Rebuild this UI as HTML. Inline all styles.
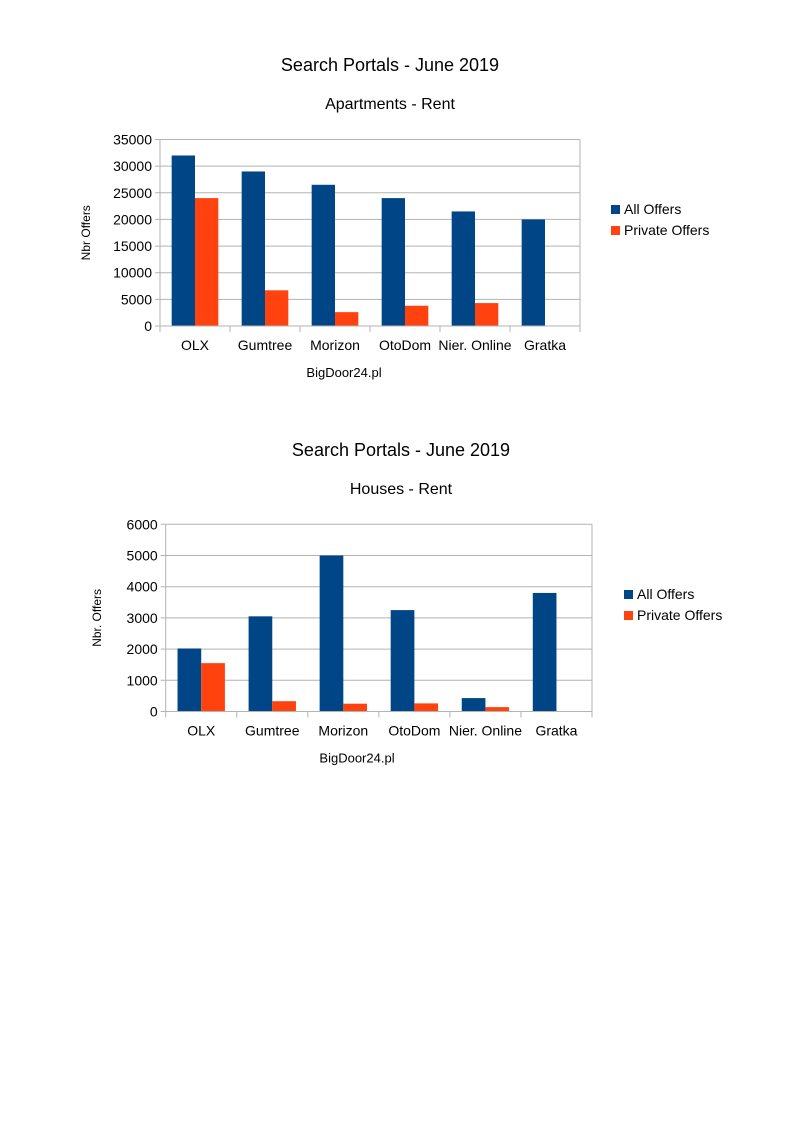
<!DOCTYPE html>
<html><head><meta charset="utf-8"><style>
body{margin:0;background:#fff;width:794px;height:1123px;overflow:hidden}
svg{font-family:"Liberation Sans",sans-serif}
</style></head><body>
<svg id="s" width="794" height="1123"></svg>
<script>
const categories=["OLX","Gumtree","Morizon","OtoDom","Nier. Online","Gratka"];
const aptAll=[32000,29000,26500,24000,21500,20000];
const aptPrivate=[24000,6700,2600,3800,4300,0];
const aptTicks=[0,5000,10000,15000,20000,25000,30000,35000];
const houseAll=[2020,3050,5000,3250,430,3800];
const housePrivate=[1550,330,250,260,140,0];
const houseTicks=[0,1000,2000,3000,4000,5000,6000];
const NS="http://www.w3.org/2000/svg";
const svg=document.getElementById('s');
function mk(tag,attrs,parent,text){const e=document.createElementNS(NS,tag);for(const k in attrs)e.setAttribute(k,attrs[k]);if(text!==undefined)e.textContent=text;(parent||svg).appendChild(e);return e;}
function chart(o){
  const g=mk('g',{});
  
  
  const t=mk('text',{x:o.cx,y:o.titleY,'text-anchor':'middle','font-size':18,fill:'#000'},g,'Search Portals - June 2019');
  
  const st=mk('text',{x:o.cx,y:o.titleY+38,'text-anchor':'middle','font-size':16,fill:'#000'},g,o.sub);
  
  const max=o.ticks[o.ticks.length-1];
  const y=v=>o.y0-(v/max)*(o.y0-o.y1);
  const cw=(o.x1-o.x0)/categories.length;
  const x=i=>o.x0+i*cw;
  o.ticks.forEach(v=>{
    const l=mk('line',{x1:o.x0-5,x2:o.x1,y1:y(v),y2:y(v),stroke:'#b3b3b3','stroke-width':1},g);
    
    const tl=mk('text',{x:o.x0-8,y:y(v)+5,'text-anchor':'end','font-size':14,fill:'#000'},g,String(v));
    
  });
  mk('line',{x1:o.x0,x2:o.x0,y1:o.y1,y2:o.y0,stroke:'#b3b3b3'},g);
  mk('line',{x1:o.x1,x2:o.x1,y1:o.y1,y2:o.y0,stroke:'#b3b3b3'},g);
  const bw=cw/3;
  categories.forEach((c,i)=>{
    const b1=mk('rect',{x:x(i)+cw/6,y:y(o.all[i]),width:bw,height:o.y0-y(o.all[i]),fill:'#004586'},g);
    
    const b2=mk('rect',{x:x(i)+cw/6+bw,y:y(o.priv[i]),width:bw,height:o.y0-y(o.priv[i]),fill:'#ff420e'},g);
    
    mk('line',{x1:x(i),x2:x(i),y1:o.y0,y2:o.y0+6,stroke:'#b3b3b3'},g);
    const cl=mk('text',{x:x(i)+cw/2,y:o.y0+24,'text-anchor':'middle','font-size':14,fill:'#000'},g,c);
    
  });
  mk('line',{x1:o.x1,x2:o.x1,y1:o.y0,y2:o.y0+6,stroke:'#b3b3b3'},g);
  mk('line',{x1:o.x0,x2:o.x1,y1:o.y0,y2:o.y0,stroke:'#b3b3b3'},g);
  const xt=mk('text',{x:o.xtX,y:o.y0+51,'text-anchor':'middle','font-size':13,fill:'#000'},g,'BigDoor24.pl');
  
  const yt=mk('text',{x:0,y:0,'text-anchor':'middle','font-size':12,fill:'#000',transform:`translate(${o.ytX},${(o.y0+o.y1)/2}) rotate(-90)`},g,o.ytitle);
  
  [['All Offers','#004586'],['Private Offers','#ff420e']].forEach((L,k)=>{
    const lg=mk('g',{},g);
    
    mk('rect',{x:o.lx,y:o.ly+k*21-8,width:9,height:9,fill:L[1]},lg);
    mk('text',{x:o.lx+13,y:o.ly+k*21+1,'font-size':14,fill:'#000'},lg,L[0]);
  });
}
chart({name:'apartments-chart',cx:390,titleY:71,sub:'Apartments - Rent',x0:160,x1:580,y0:326,y1:139.5,ticks:aptTicks,all:aptAll,priv:aptPrivate,xtX:344,ytX:90,ytitle:'Nbr Offers',lx:611,ly:213});
chart({name:'houses-chart',cx:401,titleY:456,sub:'Houses - Rent',x0:165.7,x1:592,y0:711.5,y1:524.3,ticks:houseTicks,all:houseAll,priv:housePrivate,xtX:357,ytX:101,ytitle:'Nbr. Offers',lx:624,ly:598});
</script>
</body></html>
